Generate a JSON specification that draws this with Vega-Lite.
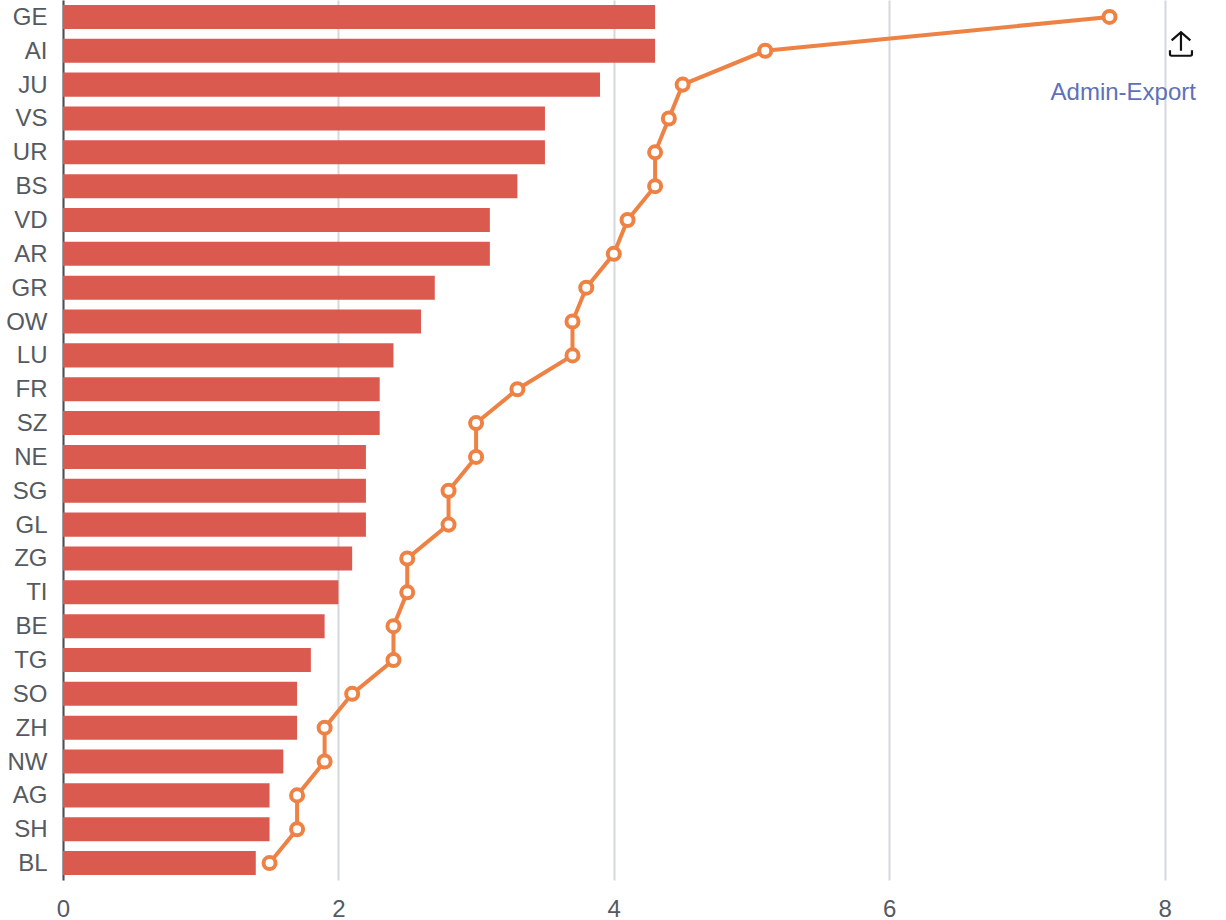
{
  "$schema": "https://vega.github.io/schema/vega-lite/v6.json",
  "width": 1163,
  "height": 880,
  "autosize": {"type": "none"},
  "padding": {"left": 63, "top": 0, "right": 0, "bottom": 40},
  "background": "white",
  "config": {"view": {"stroke": null}, "font": "Liberation Sans"},
  "datasets": {
    "cantons": [
      {"canton": "GE", "bar": 4.3, "line": 7.6},
      {"canton": "AI", "bar": 4.3, "line": 5.1},
      {"canton": "JU", "bar": 3.9, "line": 4.5},
      {"canton": "VS", "bar": 3.5, "line": 4.4},
      {"canton": "UR", "bar": 3.5, "line": 4.3},
      {"canton": "BS", "bar": 3.3, "line": 4.3},
      {"canton": "VD", "bar": 3.1, "line": 4.1},
      {"canton": "AR", "bar": 3.1, "line": 4.0},
      {"canton": "GR", "bar": 2.7, "line": 3.8},
      {"canton": "OW", "bar": 2.6, "line": 3.7},
      {"canton": "LU", "bar": 2.4, "line": 3.7},
      {"canton": "FR", "bar": 2.3, "line": 3.3},
      {"canton": "SZ", "bar": 2.3, "line": 3.0},
      {"canton": "NE", "bar": 2.2, "line": 3.0},
      {"canton": "SG", "bar": 2.2, "line": 2.8},
      {"canton": "GL", "bar": 2.2, "line": 2.8},
      {"canton": "ZG", "bar": 2.1, "line": 2.5},
      {"canton": "TI", "bar": 2.0, "line": 2.5},
      {"canton": "BE", "bar": 1.9, "line": 2.4},
      {"canton": "TG", "bar": 1.8, "line": 2.4},
      {"canton": "SO", "bar": 1.7, "line": 2.1},
      {"canton": "ZH", "bar": 1.7, "line": 1.9},
      {"canton": "NW", "bar": 1.6, "line": 1.9},
      {"canton": "AG", "bar": 1.5, "line": 1.7},
      {"canton": "SH", "bar": 1.5, "line": 1.7},
      {"canton": "BL", "bar": 1.4, "line": 1.5}
    ]
  },
  "data": {"name": "cantons"},
  "encoding": {
    "y": {
      "field": "canton",
      "type": "nominal",
      "sort": null,
      "title": null,
      "scale": {"paddingInner": 0.29, "paddingOuter": 0.145},
      "axis": {
        "ticks": false,
        "grid": false,
        "labelFontSize": 24,
        "labelColor": "#555a60",
        "labelPadding": 16,
        "labelOffset": 1,
        "domainColor": "#4a4f55",
        "domainWidth": 2
      }
    }
  },
  "layer": [
    {
      "mark": {"type": "bar", "color": "#db5a50"},
      "encoding": {
        "x": {
          "field": "bar",
          "type": "quantitative",
          "title": null,
          "scale": {"domain": [0, 8.446], "nice": false},
          "axis": {
            "values": [0, 2, 4, 6, 8],
            "format": "d",
            "domain": false,
            "ticks": false,
            "grid": true,
            "gridColor": "#d5d8dd",
            "gridWidth": 2,
            "labelFontSize": 24,
            "labelColor": "#555a60",
            "labelPadding": 17,
            "labelFlush": false
          }
        }
      }
    },
    {
      "mark": {"type": "line", "color": "#ee8244", "strokeWidth": 4},
      "encoding": {
        "x": {"field": "line", "type": "quantitative"},
        "order": {"value": null}
      }
    },
    {
      "mark": {"type": "point", "filled": true, "fill": "white", "stroke": "#ee8244", "strokeWidth": 4, "size": 145, "opacity": 1},
      "encoding": {
        "x": {"field": "line", "type": "quantitative"}
      }
    },
    {
      "data": {"values": [{"canton": "JU", "pos": 8.228, "label": "Admin-Export"}]},
      "mark": {"type": "text", "align": "right", "baseline": "middle", "dy": 8, "fontSize": 24, "color": "#5f70ba"},
      "encoding": {
        "x": {"field": "pos", "type": "quantitative"},
        "text": {"field": "label"}
      }
    },
    {
      "data": {"values": [{"canton": "AI", "pos": 8.119}]},
      "mark": {
        "type": "point",
        "shape": "M -1 0.5 L -1 0.85 Q -1 1 -0.85 1 L 0.85 1 Q 1 1 1 0.85 L 1 0.5 M 0 0.55 L 0 -1.15 M -0.85 -0.4 L 0 -1.15 L 0.85 -0.4",
        "filled": false,
        "stroke": "#111111",
        "strokeWidth": 2.2,
        "size": 484,
        "opacity": 1,
        "yOffset": -6
      },
      "encoding": {
        "x": {"field": "pos", "type": "quantitative"}
      }
    }
  ]
}
